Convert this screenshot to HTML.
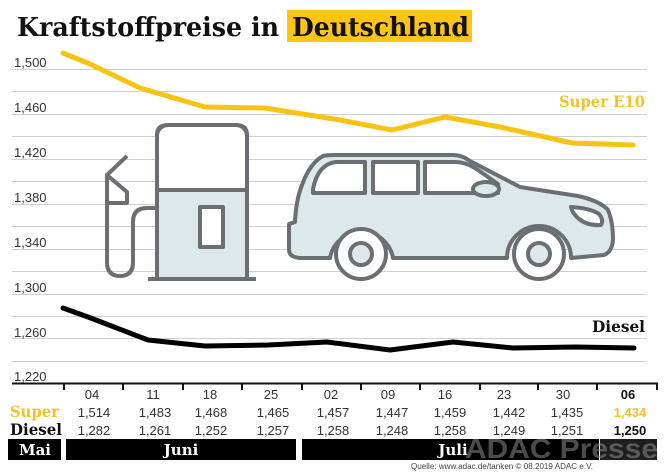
<!DOCTYPE html>
<html><head><meta charset="utf-8"><style>
html,body{margin:0;padding:0;background:#fff;}
svg{display:block;}
</style></head><body>
<svg width="668" height="476" viewBox="0 0 668 476" xmlns="http://www.w3.org/2000/svg">
<rect width="668" height="476" fill="#fff"/>
<!-- title -->
<rect x="287" y="10" width="185" height="32" fill="#fcc514"/>
<text x="17" y="36" font-family="DejaVu Serif, Liberation Serif, serif" font-weight="bold" font-size="26" fill="#111" textLength="262" lengthAdjust="spacingAndGlyphs">Kraftstoffpreise in</text>
<text x="292" y="36" font-family="DejaVu Serif, Liberation Serif, serif" font-weight="bold" font-size="26" fill="#111" textLength="177" lengthAdjust="spacingAndGlyphs">Deutschland</text>

<!-- gridlines -->
<g stroke="#cfcfcf" stroke-width="1">
<line x1="12" x2="647" y1="69.5" y2="69.5"/>
<line x1="12" x2="647" y1="91.5" y2="91.5"/>
<line x1="12" x2="647" y1="114.5" y2="114.5"/>
<line x1="12" x2="647" y1="136.5" y2="136.5"/>
<line x1="12" x2="647" y1="159.5" y2="159.5"/>
<line x1="12" x2="647" y1="181.5" y2="181.5"/>
<line x1="12" x2="647" y1="204.5" y2="204.5"/>
<line x1="12" x2="647" y1="226.5" y2="226.5"/>
<line x1="12" x2="647" y1="249.5" y2="249.5"/>
<line x1="12" x2="647" y1="271.5" y2="271.5"/>
<line x1="12" x2="647" y1="294.5" y2="294.5"/>
<line x1="12" x2="647" y1="316.5" y2="316.5"/>
<line x1="12" x2="647" y1="338.5" y2="338.5"/>
<line x1="12" x2="647" y1="361.5" y2="361.5"/>
</g>
<!-- y labels -->
<g font-family="Liberation Sans, sans-serif" font-size="13" fill="#333">
<text x="14" y="67">1,500</text>
<text x="14" y="112">1,460</text>
<text x="14" y="157">1,420</text>
<text x="14" y="202">1,380</text>
<text x="14" y="247">1,340</text>
<text x="14" y="292">1,300</text>
<text x="14" y="337">1,260</text>
<text x="14" y="381">1,220</text>
</g>

<!-- pump icon -->
<g stroke="#6b6e73" stroke-width="4" fill="none" stroke-linejoin="round">
<rect x="157" y="125" width="90" height="152" rx="11" fill="#fff"/>
<rect x="157" y="190" width="90" height="87" fill="#dce8e9" stroke="none"/>
<path d="M157,277 V135 Q157,125 168,125 H236 Q247,125 247,135 V277"/>
<line x1="157" y1="190" x2="247" y2="190"/>
<rect x="200" y="207" width="23" height="40" fill="#fff"/>
<line x1="148" y1="279" x2="256" y2="279"/>
<path d="M157,208 H147 Q133,208 133,222 V262 Q133,276 120,276 Q107,276 107,262 V203"/>
<path d="M127,156 L107,175 L127,192 V203 H107 V175"/>
</g>

<!-- car icon -->
<g stroke="#6b6e73" stroke-width="4" fill="#dce8e9" stroke-linejoin="round">
<path d="M300,258 Q289,257 289,250 V224 L295,222 Q296,200 302,185 Q310,163 323,156 Q327,155 335,155 H453 Q462,155 470,161 L520,187 L578,196 Q600,201 608,210 Q613,222 613,240 Q612,252 604,255 L571,258 A32,32 0 0 0 507,258 L393,258 A32,32 0 0 0 330,258 Z"/>
<path d="M313,193 V189 Q318,164 336,162 H365 V193 Z" fill="#fff"/>
<rect x="373" y="162" width="45" height="31" fill="#fff"/>
<path d="M425,162 H455 Q465,162 475,168 L498,184 L498,193 H425 Z" fill="#fff"/>
<ellipse cx="486" cy="189" rx="13" ry="7"/>
<path d="M571,207 Q590,208 599,214 Q604,220 601,225 Q588,226 579,219 Q572,213 571,207 Z" fill="#fff"/>
<circle cx="361" cy="254" r="25" fill="#fff"/>
<circle cx="361" cy="254" r="11"/>
<circle cx="539" cy="254" r="25" fill="#fff"/>
<circle cx="539" cy="254" r="11"/>
</g>

<!-- series -->
<polyline fill="none" stroke="#f8c313" stroke-width="5" stroke-linejoin="round" stroke-linecap="round"
 points="63,53 90,64 140,88 205,107 265,108 340,120 392,130 445,117 500,127 572,143 633,145"/>
<polyline fill="none" stroke="#000" stroke-width="5" stroke-linejoin="round" stroke-linecap="round"
 points="63,308 88,317 148,340 205,346 268,345 327,342 390,350 453,342 513,348 575,347 634,348"/>

<text x="559" y="107" font-family="DejaVu Serif, Liberation Serif, serif" font-weight="bold" font-size="16" fill="#f2c12b" textLength="86" lengthAdjust="spacingAndGlyphs">Super E10</text>
<text x="592" y="332" font-family="DejaVu Serif, Liberation Serif, serif" font-weight="bold" font-size="16" fill="#111" textLength="53" lengthAdjust="spacingAndGlyphs">Diesel</text>

<!-- axis -->
<line x1="12" x2="658" y1="383.5" y2="383.5" stroke="#111" stroke-width="2"/>
<g stroke="#111" stroke-width="2">
<line x1="64" x2="64" y1="383" y2="390"/>
<line x1="123" x2="123" y1="383" y2="390"/>
<line x1="183" x2="183" y1="383" y2="390"/>
<line x1="242" x2="242" y1="383" y2="390"/>
<line x1="302" x2="302" y1="383" y2="390"/>
<line x1="361" x2="361" y1="383" y2="390"/>
<line x1="420" x2="420" y1="383" y2="390"/>
<line x1="480" x2="480" y1="383" y2="390"/>
<line x1="538" x2="538" y1="383" y2="390"/>
<line x1="597" x2="597" y1="383" y2="390"/>
<line x1="657" x2="657" y1="383" y2="390"/>
</g>

<!-- table -->
<g font-family="Liberation Sans, sans-serif" font-size="13" fill="#333" text-anchor="middle">
<text x="92" y="399">04</text>
<text x="153" y="399">11</text>
<text x="210" y="399">18</text>
<text x="271" y="399">25</text>
<text x="331" y="399">02</text>
<text x="388" y="399">09</text>
<text x="445" y="399">16</text>
<text x="504" y="399">23</text>
<text x="563" y="399">30</text>
<text x="628" y="399" font-weight="bold" fill="#111">06</text>

<text x="94" y="417">1,514</text>
<text x="155" y="417">1,483</text>
<text x="211" y="417">1,468</text>
<text x="273" y="417">1,465</text>
<text x="333" y="417">1,457</text>
<text x="392" y="417">1,447</text>
<text x="450" y="417">1,459</text>
<text x="509" y="417">1,442</text>
<text x="567" y="417">1,435</text>
<text x="630" y="417" font-weight="bold" fill="#f2c12b">1,434</text>

<text x="94" y="435">1,282</text>
<text x="155" y="435">1,261</text>
<text x="211" y="435">1,252</text>
<text x="273" y="435">1,257</text>
<text x="333" y="435">1,258</text>
<text x="392" y="435">1,248</text>
<text x="450" y="435">1,258</text>
<text x="509" y="435">1,249</text>
<text x="567" y="435">1,251</text>
<text x="630" y="435" font-weight="bold" fill="#111">1,250</text>
</g>
<text x="10" y="417" font-family="DejaVu Serif, Liberation Serif, serif" font-weight="bold" font-size="16" fill="#f2c12b" textLength="49" lengthAdjust="spacingAndGlyphs">Super</text>
<text x="10" y="435" font-family="DejaVu Serif, Liberation Serif, serif" font-weight="bold" font-size="16" fill="#111" textLength="52" lengthAdjust="spacingAndGlyphs">Diesel</text>

<!-- months -->
<rect x="8" y="439" width="53" height="21" fill="#000"/>
<rect x="66" y="439" width="230" height="21" fill="#000"/>
<rect x="302" y="439" width="297" height="21" fill="#000"/>
<rect x="600" y="439" width="57" height="21" fill="#1e1e1e"/>
<g font-family="DejaVu Serif, Liberation Serif, serif" font-weight="bold" font-size="15" fill="#fff" text-anchor="middle">
<text x="35" y="455">Mai</text>
<text x="181" y="455">Juni</text>
<text x="453" y="455">Juli</text>
</g>
<text x="465" y="458" font-family="Liberation Sans, sans-serif" font-weight="bold" font-size="28" fill="#8a8a8a" fill-opacity="0.55" textLength="193" lengthAdjust="spacingAndGlyphs">ADAC Presse</text>
<text x="411" y="469" font-family="Liberation Sans, sans-serif" font-size="8" fill="#444" textLength="182" lengthAdjust="spacingAndGlyphs">Quelle: www.adac.de/tanken   © 08.2019  ADAC e.V.</text>
</svg>
</body></html>
